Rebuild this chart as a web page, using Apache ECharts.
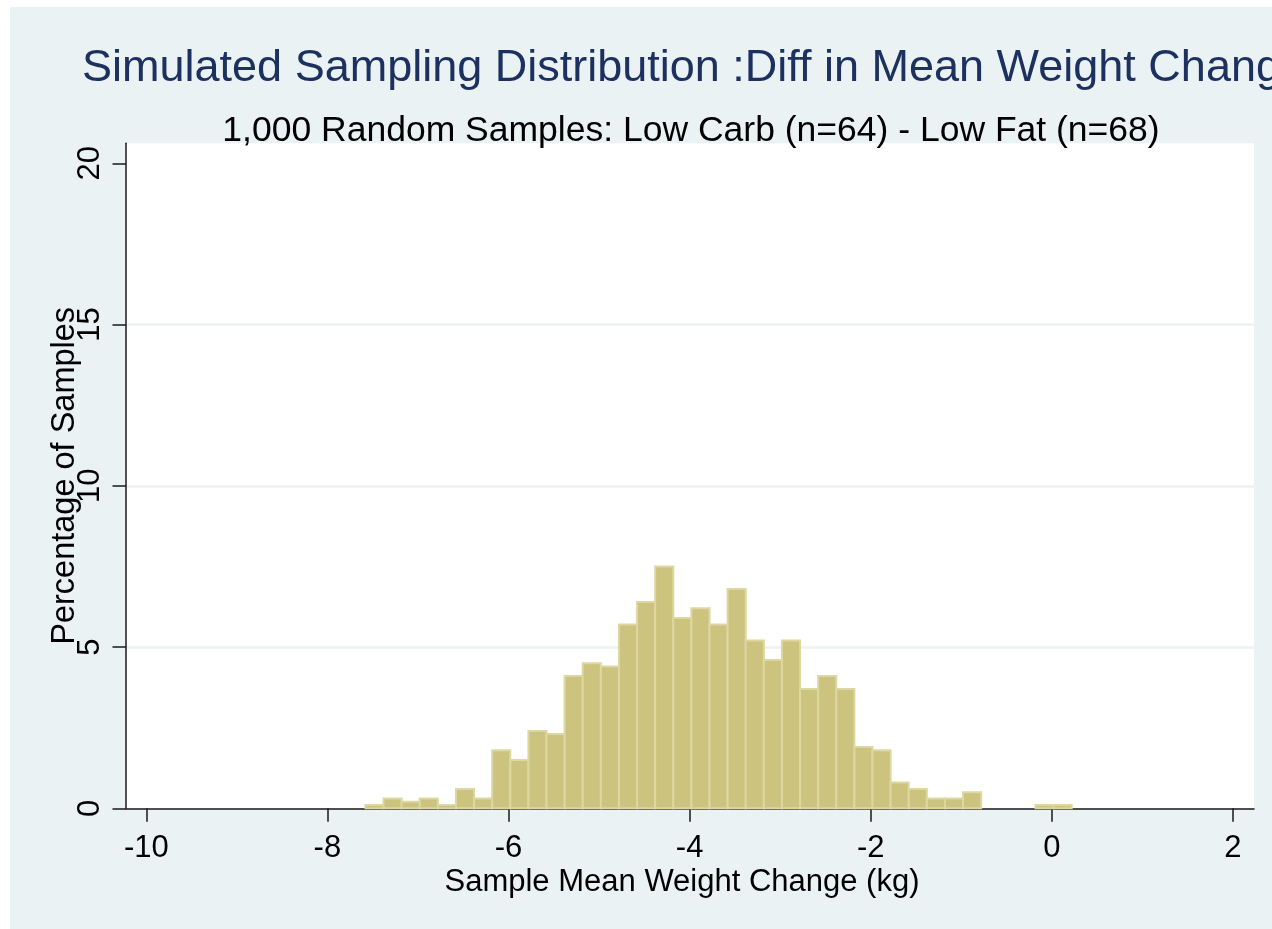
<!DOCTYPE html>
<html>
<head>
<meta charset="utf-8">
<script src="https://cdn.jsdelivr.net/npm/echarts@6/dist/echarts.min.js"></script>
<style>
  html, body { margin: 0; padding: 0; background: #ffffff; width: 1272px; height: 929px; overflow: hidden; }
  #chart { position: absolute; left: 10px; top: 7px; width: 1262px; height: 922px; }
</style>
</head>
<body>
<div id="chart"></div>
<script>
// ---- data ----
const titleText = 'Simulated Sampling Distribution :Diff in Mean Weight Change';
const subtitleText = '1,000 Random Samples: Low Carb (n=64) - Low Fat (n=68)';
const xAxisTitle = 'Sample Mean Weight Change (kg)';
const yAxisTitle = 'Percentage of Samples';
const binWidth = 0.2;
const binLeft = [-7.58, -7.38, -7.18, -6.98, -6.78, -6.58, -6.38, -6.18, -5.98, -5.78,
                 -5.58, -5.38, -5.18, -4.98, -4.78, -4.58, -4.38, -4.18, -3.98, -3.78,
                 -3.58, -3.38, -3.18, -2.98, -2.78, -2.58, -2.38, -2.18, -1.98, -1.78,
                 -1.58, -1.38, -1.18, -0.98, -0.78, -0.58, -0.38, -0.18, 0.02];
const percent = [0.1, 0.3, 0.2, 0.3, 0.1, 0.6, 0.3, 1.8, 1.5, 2.4,
                 2.3, 4.1, 4.5, 4.4, 5.7, 6.4, 7.5, 5.9, 6.2, 5.7,
                 6.8, 5.2, 4.6, 5.2, 3.7, 4.1, 3.7, 1.9, 1.8, 0.8,
                 0.6, 0.3, 0.3, 0.5, 0, 0, 0, 0.1, 0.1];
const xTicks = [-10, -8, -6, -4, -2, 0, 2];
const yTicks = [0, 5, 10, 15, 20];
const yGridValues = [5, 10, 15];

// ---- chart ----
const FONT = '"Liberation Sans", Arial, Helvetica, sans-serif';
const chart = echarts.init(document.getElementById('chart'), null, { renderer: 'canvas' });

const histData = binLeft.map((x, i) => [x, x + binWidth, percent[i]]).filter(d => d[2] > 0);

const option = {
  backgroundColor: '#EAF2F3',
  animation: false,
  title: [
    {
      text: titleText,
      left: 684, top: 39, textAlign: 'center', padding: 0,
      textStyle: { fontFamily: FONT, fontSize: 45, fontWeight: 'normal', color: '#1C3160' }
    },
    {
      text: subtitleText,
      left: 681, top: 106, textAlign: 'center', padding: 0,
      textStyle: { fontFamily: FONT, fontSize: 35.5, fontWeight: 'normal', color: '#000000' }
    }
  ],
  grid: {
    left: 116, top: 136.3, right: 18, bottom: 120.7,
    show: true, backgroundColor: '#ffffff', borderWidth: 0
  },
  xAxis: {
    type: 'value',
    min: -10.224, max: 2.233,
    name: xAxisTitle,
    nameLocation: 'middle',
    nameGap: 59,
    nameMoveOverlap: false,
    nameTextStyle: { fontFamily: FONT, fontSize: 31, color: '#000', padding: [0, 16, 0, 0] },
    axisLine: { show: true, onZero: false, lineStyle: { color: '#1a1a1a', width: 1.5 } },
    axisTick: { show: true, length: 13.5, customValues: xTicks, lineStyle: { color: '#1a1a1a', width: 1.5 } },
    axisLabel: { show: true, customValues: xTicks, margin: 25, fontFamily: FONT, fontSize: 31, color: '#000' },
    splitLine: { show: false }
  },
  yAxis: [
    {
      type: 'value',
      min: 0, max: 20.62,
      name: yAxisTitle,
      nameLocation: 'middle',
      nameGap: 44,
      nameMoveOverlap: false,
      nameTextStyle: { fontFamily: FONT, fontSize: 32.5, color: '#000' },
      axisLine: { show: true, onZero: false, lineStyle: { color: '#1a1a1a', width: 1.5 } },
      axisTick: { show: true, length: 13.5, customValues: yTicks, lineStyle: { color: '#1a1a1a', width: 1.5 } },
      axisLabel: { show: true, customValues: yTicks, rotate: 90, margin: 20, fontFamily: FONT, fontSize: 31, color: '#000' },
      splitLine: { show: false }
    },
    {
      type: 'value',
      min: 0, max: 20.62,
      position: 'left',
      axisLine: { show: false, onZero: false },
      axisTick: { show: false, customValues: yGridValues },
      axisLabel: { show: false, customValues: yGridValues },
      splitLine: { show: true, lineStyle: { color: '#EAF2F3', width: 2.5 } }
    }
  ],
  series: [
    {
      type: 'custom',
      xAxisIndex: 0,
      yAxisIndex: 0,
      z: 5,
      data: histData,
      encode: { x: [0, 1], y: 2 },
      renderItem: function (params, api) {
        const p0 = api.coord([api.value(0), api.value(2)]);
        const p1 = api.coord([api.value(1), 0]);
        return {
          type: 'rect',
          shape: { x: p0[0], y: p0[1], width: p1[0] - p0[0], height: p1[1] - p0[1] },
          style: { fill: '#CBC37E', stroke: '#DDD7A1', lineWidth: 2 }
        };
      }
    }
  ]
};
chart.setOption(option);
</script>
</body>
</html>
